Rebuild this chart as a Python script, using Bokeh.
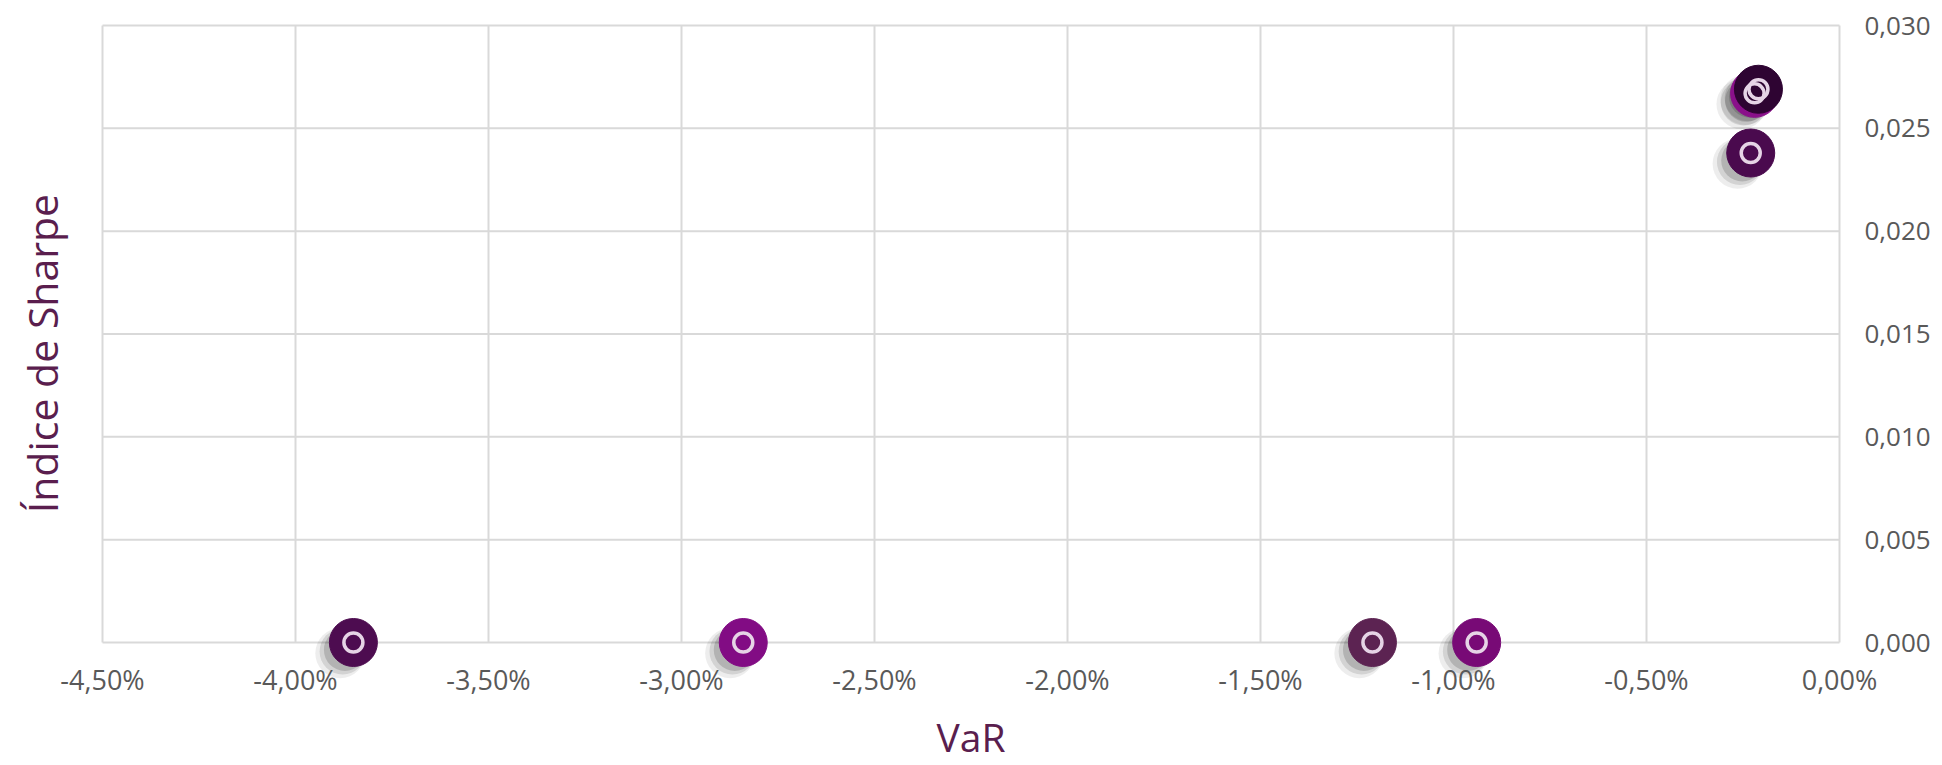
import math
from bokeh.plotting import figure
from bokeh.models import (Range1d, FixedTicker, CustomJSTickFormatter,
                          ColumnDataSource, Label)
from bokeh.transform import dodge
from bokeh.embed import file_html
from bokeh.resources import INLINE

# ---- data (VaR in %, Sharpe ratio) ----
var_pct = [-3.85, -2.84, -1.21, -0.94, -0.22, -0.21, -0.23]
sharpe = [0.0, 0.0, 0.0, 0.0, 0.0267, 0.0269, 0.0238]
point_colors = ["#4d0c50", "#820c84", "#5c2352", "#780a76", "#8a108a", "#2e0432", "#4a0a4e"]

x_ticks = [-4.5, -4.0, -3.5, -3.0, -2.5, -2.0, -1.5, -1.0, -0.5, 0.0]
y_ticks = [0.0, 0.005, 0.010, 0.015, 0.020, 0.025, 0.030]

FONT = "Open Sans"
TICK_COLOR = "#595959"
TITLE_COLOR = "#5a1e4e"
GRID = "#d9d9d9"

src = ColumnDataSource(dict(x=var_pct, y=sharpe, c=point_colors))

# The frame covers the whole canvas (so nothing is clipped); the data area
# spans pixels x 102..1839, y 25..642, axes are pinned at x=0 and y=0.
W, H = 1934, 765
L, R, T, B = 102, 1839, 25, 642
sx = (x_ticks[-1] - x_ticks[0]) / (R - L)
sy = (y_ticks[-1] - y_ticks[0]) / (B - T)
x_range = Range1d(x_ticks[0] - L * sx, x_ticks[-1] + (W - R) * sx)
y_range = Range1d(y_ticks[0] - (H - B) * sy, y_ticks[-1] + T * sy)

p = figure(width=W, height=H, x_range=x_range, y_range=y_range,
           output_backend="svg", toolbar_location=None,
           y_axis_location="right",
           min_border_left=0, min_border_right=0,
           min_border_top=0, min_border_bottom=0)

p.background_fill_color = "white"
p.border_fill_color = "white"
p.outline_line_color = None

xa = p.xaxis[0]
xa.fixed_location = y_ticks[0]
xa.ticker = FixedTicker(ticks=x_ticks)
xa.formatter = CustomJSTickFormatter(code="return tick.toFixed(2).replace('.', ',') + '%';")
ya = p.yaxis[0]
ya.fixed_location = x_ticks[-1]
ya.ticker = FixedTicker(ticks=y_ticks)
ya.formatter = CustomJSTickFormatter(code="return tick.toFixed(3).replace('.', ',');")

for ax in (xa, ya):
    ax.axis_line_color = None
    ax.major_tick_line_color = None
    ax.minor_tick_line_color = None
    ax.major_tick_out = 0
    ax.major_tick_in = 0
    ax.minor_tick_out = 0
    ax.major_label_text_font = FONT
    ax.major_label_text_color = TICK_COLOR

xa.major_label_text_font_size = "27px"
ya.major_label_text_font_size = "26px"
xa.major_label_standoff = 18
ya.major_label_standoff = 25

# axis titles
p.add_layout(Label(x=(x_ticks[0] + x_ticks[-1]) / 2, y=y_ticks[0], y_offset=-94,
                   text="VaR", text_font=FONT, text_font_size="39px",
                   text_color=TITLE_COLOR, text_align="center",
                   text_baseline="middle"))
p.add_layout(Label(x=x_ticks[0], x_offset=-61, y=0.01405, angle=math.pi / 2,
                   text="Índice de Sharpe", text_font=FONT, text_font_size="41px",
                   text_color=TITLE_COLOR, text_align="center",
                   text_baseline="middle"))

# grid lines limited to the data area
p.xgrid.grid_line_color = None
p.ygrid.grid_line_color = None
p.segment(x0=x_ticks, y0=[y_ticks[0]] * len(x_ticks),
          x1=x_ticks, y1=[y_ticks[-1]] * len(x_ticks),
          line_color=GRID, line_width=2)
p.segment(x0=[x_ticks[0]] * len(y_ticks), y0=y_ticks,
          x1=[x_ticks[-1]] * len(y_ticks), y1=y_ticks,
          line_color=GRID, line_width=2)

# soft drop shadows (offset down-left)
for dx, dy, sz, a in [(-0.034, -0.00052, 50, 0.07), (-0.028, -0.00044, 46, 0.11),
                      (-0.022, -0.00036, 42, 0.15)]:
    p.scatter(x=dodge("x", dx), y=dodge("y", dy), source=src, size=sz,
              marker="circle", fill_color="black", fill_alpha=a, line_color=None)

# markers
p.scatter(x="x", y="y", source=src, size=48, marker="circle",
          fill_color="c", line_color="c", line_width=1)
# inner rings
p.scatter(x="x", y="y", source=src, size=19, marker="circle",
          fill_color=None, line_color="#e6d4e6", line_width=3.5)

open("out.html", "w").write(file_html(p, INLINE))
